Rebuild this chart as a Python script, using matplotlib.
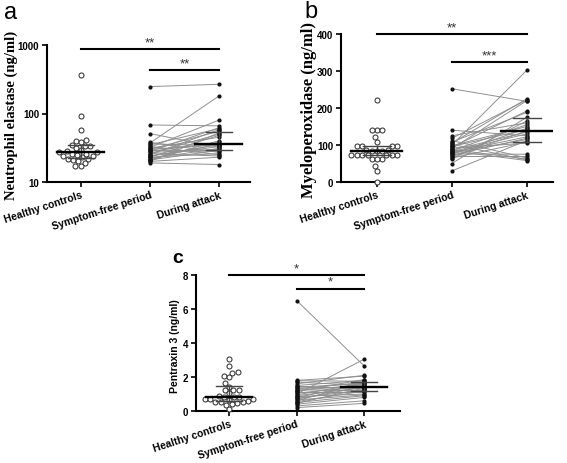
import numpy as np
import matplotlib
matplotlib.use('Agg')
import matplotlib.pyplot as plt
from matplotlib.ticker import FixedLocator, NullLocator, FixedFormatter

plt.rcParams['font.family'] = ['Liberation Sans', 'DejaVu Sans']

categories = ['Healthy controls', 'Symptom-free period', 'During attack']

# Panel a: neutrophil elastase (ng/ml)
ne_healthy = [369, 92, 58, 41, 40, 38, 35, 34, 33, 31, 29, 28, 27, 27, 26, 26,
              25, 24, 24, 23, 22, 22, 21, 20, 19, 17, 17]
ne_free = [247, 68, 51, 38, 37, 36, 35, 33, 32, 31, 30, 30, 29, 28, 28, 27,
           26, 26, 25, 24, 24, 23, 23, 22, 22, 21, 21, 20, 20, 19]
ne_attack = [267, 66, 32, 27, 180, 34, 60, 25, 80, 45, 35, 55, 28, 38, 62, 30,
             50, 24, 58, 33, 35, 26, 48, 31, 36, 29, 40, 23, 52, 18]

# Panel b: myeloperoxidase (ng/ml)
mpo_healthy = [221, 141, 141, 141, 122, 109, 97, 97, 96, 96, 86, 86, 85, 85,
               84, 74, 74, 73, 73, 72, 72, 72, 62, 62, 61, 42, 29, 0]
mpo_free = [252, 140, 125, 118, 112, 108, 105, 102, 100, 98, 96, 94, 92, 90,
            88, 86, 85, 84, 82, 80, 78, 76, 75, 72, 70, 68, 65, 62, 50, 30]
mpo_attack = [218, 125, 160, 222, 65, 188, 225, 60, 302, 150, 142, 192, 105,
              220, 62, 135, 155, 58, 130, 122, 115, 75, 145, 118, 70, 138, 108,
              165, 175, 112]

# Panel c: pentraxin 3 (ng/ml)
ptx_healthy = [3.05, 2.62, 2.27, 2.25, 2.03, 2.0, 1.67, 1.44, 1.25, 1.24, 1.22,
               1.05, 0.9, 0.85, 0.82, 0.8, 0.7, 0.69, 0.68, 0.66, 0.6, 0.55,
               0.53, 0.52, 0.5, 0.4, 0.38, 0.14]
ptx_free = [6.5, 1.8, 1.78, 1.7, 1.6, 1.5, 1.45, 1.4, 1.35, 1.3, 1.25, 1.2,
            1.15, 1.1, 1.05, 1.0, 0.95, 0.9, 0.85, 0.8, 0.75, 0.7, 0.65, 0.6,
            0.55, 0.5, 0.45, 0.4, 0.3, 0.2]
ptx_attack = [2.65, 2.05, 1.75, 1.5, 2.1, 1.8, 1.3, 1.62, 1.4, 1.68, 1.2, 1.55,
              1.85, 1.1, 1.45, 3.05, 1.65, 1.38, 1.0, 1.6, 1.25, 1.42, 0.95,
              1.7, 1.18, 0.9, 1.35, 0.8, 0.6, 0.45]

W, H = 567, 464
fig = plt.figure(figsize=(W / 100, H / 100), dpi=100)


def add_ax(l, r, t, b):
    return fig.add_axes([l / W, 1 - b / H, (r - l) / W, (b - t) / H])


def style(ax):
    for s in ['top', 'right']:
        ax.spines[s].set_visible(False)
    for s in ['left', 'bottom']:
        ax.spines[s].set_linewidth(1.5)
    ax.tick_params(axis='both', direction='out', length=3.5, width=1.2,
                   labelsize=7, pad=2)
    ax.set_xticks([0, 1, 2])
    ax.set_xticklabels(categories, rotation=18, ha='right',
                       rotation_mode='anchor', fontsize=7.5, fontweight='bold')
    for lab in ax.get_yticklabels():
        lab.set_fontweight('bold')
    ax.patch.set_alpha(0)


def swarm_x(ax, x0, vals, d=5.4):
    tr = ax.transData
    ys = np.array([tr.transform((x0, v))[1] for v in vals])
    ppu = tr.transform((1, 0))[0] - tr.transform((0, 0))[0]
    order = np.argsort(ys)
    placed = []
    offs = np.zeros(len(vals))
    for i in order:
        y = ys[i]
        cands = [0.0]
        for (px, py) in placed:
            dy = abs(py - y)
            if dy < d:
                dx = np.sqrt(d * d - dy * dy)
                cands += [px + dx, px - dx]
        cands = sorted(cands, key=lambda c: (abs(c), c))
        for c in cands:
            ok = all((c - px) ** 2 + (y - py) ** 2 >= d * d - 1e-6 for px, py in placed)
            if ok:
                offs[i] = c
                placed.append((c, y))
                break
    return x0 + offs / ppu


def summary(ax, x, vals, hw_med=0.34, hw_q=0.19):
    q1, med, q3 = np.percentile(vals, [25, 50, 75])
    ax.plot([x, x], [q1, q3], color='#444444', lw=1.0, zorder=5)
    for q in (q1, q3):
        ax.plot([x - hw_q, x + hw_q], [q, q], color='#444444', lw=1.0, zorder=5)
    ax.plot([x - hw_med, x + hw_med], [med, med], color='black', lw=1.7, zorder=6)


def draw_panel(ax, healthy, free, attack):
    xs = swarm_x(ax, 0, healthy)
    ax.plot(xs, healthy, 'o', mfc='white', mec='#333333', mew=0.75, ms=3.6,
            ls='none', zorder=3, clip_on=False)
    for f, a in zip(free, attack):
        ax.plot([1, 2], [f, a], color='#8f8f8f', lw=0.7, zorder=2)
    ax.plot([1] * len(free), free, 'o', color='#111111', ms=2.0, ls='none',
            zorder=4, clip_on=False)
    ax.plot([2] * len(attack), attack, 'o', color='#111111', ms=2.0, ls='none',
            zorder=4, clip_on=False)
    summary(ax, 0, healthy)
    summary(ax, 2, attack)


def sig(ax, x0, x1, y, text):
    ax.plot([x0, x1], [y, y], color='black', lw=1.5, clip_on=False, zorder=5)
    ax.annotate(text, xy=((x0 + x1) / 2, y), xytext=(0, 0.5), textcoords='offset points',
                ha='center', va='bottom', fontsize=9.5, color='#333333',
                annotation_clip=False)


# ---- Panel a ----
axa = add_ax(47, 250, 46, 183)
axa.set_yscale('log')
axa.set_ylim(10, 1000)
axa.set_xlim(-0.49, 2.45)
axa.yaxis.set_major_locator(FixedLocator([10, 100, 1000]))
axa.yaxis.set_major_formatter(FixedFormatter(['10', '100', '1000']))
axa.yaxis.set_minor_locator(NullLocator())
style(axa)
draw_panel(axa, ne_healthy, ne_free, ne_attack)
sig(axa, 0, 2, 870, '**')
sig(axa, 1, 2, 430, '**')

# ---- Panel b ----
axb = add_ax(341, 553, 35, 183)
axb.set_ylim(0, 400)
axb.set_xlim(-0.48, 2.35)
axb.set_yticks([0, 100, 200, 300, 400])
style(axb)
draw_panel(axb, mpo_healthy, mpo_free, mpo_attack)
sig(axb, 0, 2, 400, '**')
sig(axb, 1, 2, 324, '***')

# ---- Panel c ----
axc = add_ax(196, 400, 276, 412)
axc.set_ylim(0, 8)
axc.set_xlim(-0.49, 2.53)
axc.set_yticks([0, 2, 4, 6, 8])
style(axc)
draw_panel(axc, ptx_healthy, ptx_free, ptx_attack)
sig(axc, 0, 2, 8.0, '*')
sig(axc, 1, 2, 7.2, '*')

# y labels
fig.text(11 / W, 1 - 115 / H, 'Neutrophil elastase (ng/ml)', rotation=90,
         ha='center', va='center', fontsize=10.5, fontweight='bold',
         family=['Liberation Serif', 'DejaVu Serif'])
fig.text(309 / W, 1 - 110 / H, 'Myeloperoxidase (ng/ml)', rotation=90,
         ha='center', va='center', fontsize=12, fontweight='bold',
         family=['Liberation Serif', 'DejaVu Serif'])
fig.text(175 / W, 1 - 346 / H, 'Pentraxin 3 (ng/ml)', rotation=90,
         ha='center', va='center', fontsize=7.5, fontweight='bold')

# panel letters
fig.text(4 / W, 1 - 19 / H, 'a', ha='left', va='baseline', fontsize=17)
fig.text(304 / W, 1 - 18 / H, 'b', ha='left', va='baseline', fontsize=17)
fig.text(172 / W, 1 - 263 / H, 'c', ha='left', va='baseline', fontsize=14,
         fontweight='bold')

fig.savefig('out.png', dpi=100)
